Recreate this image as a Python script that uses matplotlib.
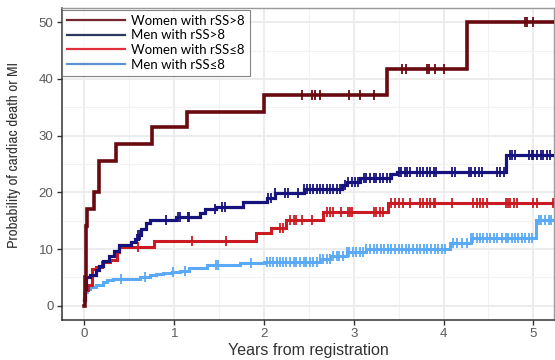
import numpy as np
import matplotlib
matplotlib.use("Agg")
import matplotlib.pyplot as plt
from matplotlib.lines import Line2D
from matplotlib.ticker import MultipleLocator
from matplotlib import font_manager

# Kaplan-Meier style step data (years, cumulative probability %)
women_hi_t = [0, 0.005, 0.015, 0.03, 0.11, 0.16, 0.35, 0.75, 1.14, 2.0, 3.37, 4.26]
women_hi_y = [0, 5.0, 14.0, 17.0, 20.0, 25.6, 28.6, 31.5, 34.2, 37.2, 41.7, 50.0]
women_hi_cens = [2.42, 2.53, 2.57, 2.62, 2.95, 3.07, 3.23, 3.54, 3.58, 3.81, 3.84,
                 3.91, 4.01, 4.91, 4.93, 5.0]

men_hi_t = [0, 0.01, 0.02, 0.06, 0.13, 0.16, 0.21, 0.27, 0.33, 0.38, 0.52, 0.56, 0.6,
            0.63, 0.69, 0.73, 1.02, 1.29, 1.34, 1.47, 1.77, 2.03, 2.12, 2.44, 2.87,
            2.92, 3.07, 3.42, 3.48, 4.70]
men_hi_y = [1.0, 3.0, 5.0, 5.5, 6.3, 7.0, 7.9, 8.7, 9.6, 10.7, 11.2, 11.8, 12.5, 13.6,
            14.6, 15.1, 15.7, 16.4, 17.0, 17.5, 18.3, 19.0, 19.8, 20.6, 21.3, 21.8,
            22.6, 23.2, 23.6, 26.6]
men_hi_cens = [0.58, 0.6, 0.62, 0.91, 1.04, 1.06, 1.15, 1.17, 1.45, 1.53, 1.56, 2.05,
               2.08, 2.12, 2.23, 2.27, 2.38, 2.44, 2.48, 2.51, 2.55, 2.59, 2.62, 2.66,
               2.70, 2.73, 2.77, 2.81, 2.85, 2.90, 2.94, 2.98, 3.01, 3.05, 3.11, 3.14,
               3.18, 3.22, 3.25, 3.29, 3.33, 3.37, 3.40, 3.50, 3.53, 3.57, 3.59, 3.63,
               3.70, 3.74, 3.77, 3.81, 3.85, 3.89, 3.92, 4.09, 4.13, 4.28, 4.31, 4.35,
               4.39, 4.43, 4.59, 4.63, 4.67, 4.74, 4.76, 4.80, 4.95, 4.98, 5.0, 5.04,
               5.08, 5.11, 5.15, 5.19]

women_lo_t = [0, 0.01, 0.04, 0.08, 0.13, 0.19, 0.28, 0.36, 0.39, 0.78, 1.91, 2.08,
              2.24, 2.66, 3.38]
women_lo_y = [1.0, 2.8, 3.6, 6.5, 6.9, 7.8, 8.1, 9.5, 10.3, 11.5, 12.8, 13.8, 15.2,
              16.6, 18.2]
women_lo_cens = [0.02, 0.6, 1.2, 1.58, 2.18, 2.21, 2.29, 2.33, 2.36, 2.42, 2.53, 2.70,
                 2.73, 2.77, 2.86, 2.94, 2.96, 2.98, 3.22, 3.25, 3.29, 3.33, 3.42,
                 3.46, 3.50, 3.55, 3.63, 3.74, 3.77, 3.81, 3.85, 3.89, 3.91, 4.09,
                 4.33, 4.37, 4.41, 4.44, 4.48, 4.69, 4.72, 4.74, 4.78, 4.82, 5.0,
                 5.04, 5.22]

men_lo_t = [0, 0.005, 0.01, 0.06, 0.13, 0.21, 0.25, 0.32, 0.62, 0.73, 0.80, 0.88,
            0.98, 1.06, 1.17, 1.36, 1.73, 2.0, 2.62, 2.74, 2.92, 3.14, 4.07, 4.31, 5.03]
men_lo_y = [1.5, 2.3, 2.9, 3.4, 3.6, 4.2, 4.5, 4.8, 5.1, 5.4, 5.6, 5.8, 6.0, 6.2,
            6.6, 7.2, 7.5, 7.8, 8.3, 8.8, 9.4, 10.0, 11.0, 11.9, 15.2]
men_lo_cens = [0.0, 0.01, 0.02, 0.03, 0.04, 0.41, 0.67, 0.99, 1.12, 1.47, 1.49, 1.86,
               2.03, 2.07, 2.10, 2.14, 2.18, 2.21, 2.25, 2.29, 2.33, 2.36, 2.40, 2.44,
               2.47, 2.51, 2.55, 2.59, 2.62, 2.66, 2.70, 2.73, 2.77, 2.81, 2.84, 2.88,
               2.92, 2.95, 2.99, 3.03, 3.07, 3.1, 3.14, 3.18, 3.22, 3.26, 3.3, 3.34,
               3.38, 3.42, 3.46, 3.5, 3.54, 3.58, 3.62, 3.66, 3.7, 3.74, 3.78, 3.82,
               3.86, 3.9, 3.94, 3.98, 4.02, 4.11, 4.15, 4.20, 4.26, 4.31, 4.33, 4.37,
               4.41, 4.44, 4.48, 4.52, 4.56, 4.59, 4.65, 4.69, 4.72, 4.76, 4.80, 4.83,
               4.87, 4.91, 4.95, 4.98, 5.06, 5.09, 5.13, 5.17, 5.2]

max_follow = 5.3

series = [
    (women_hi_t, women_hi_y, women_hi_cens, "#680A10", 2.6),
    (men_hi_t, men_hi_y, men_hi_cens, "#17137D", 2.3),
    (women_lo_t, women_lo_y, women_lo_cens, "#CC1A22", 2.2),
    (men_lo_t, men_lo_y, men_lo_cens, "#5AAAF7", 2.2),
]

legend_labels = ["Women with rSS>8", "Men with rSS>8", "Women with rSS\u22648", "Men with rSS\u22648"]
legend_colors = ["#74252E", "#2B3962", "#E2303A", "#5B90D2"]

fig = plt.figure(figsize=(5.55, 3.6), dpi=100)
ax = fig.add_axes([62 / 555, 1 - 320 / 360, 492 / 555, 312 / 360])

# draw from last to first so dark curves sit on top like the reference
for t, y, cens, col, lw in series[::-1]:
    tt = np.append(t, max_follow)
    yy = np.append(y, y[-1])
    ax.step(tt, yy, where="post", color=col, linewidth=lw, solid_joinstyle="miter", zorder=3)
    idx = np.searchsorted(t, cens, side="right") - 1
    cy = np.array(y)[idx]
    ax.plot(cens, cy, linestyle="none", marker="|", markersize=7, markeredgewidth=1.3,
            color=col, zorder=3)

ax.set_xlim(-0.25, 5.23)
ax.set_ylim(-2.5, 52.5)
ax.xaxis.set_major_locator(MultipleLocator(1))
ax.xaxis.set_minor_locator(MultipleLocator(0.5))
ax.yaxis.set_major_locator(MultipleLocator(10))
ax.yaxis.set_minor_locator(MultipleLocator(5))
ax.grid(True, which="major", color="#EBEBEB", linewidth=1.3, zorder=0)
ax.grid(True, which="minor", color="#F2F2F2", linewidth=0.8, zorder=0)
ax.set_axisbelow(True)
ax.tick_params(which="minor", length=0)
ax.tick_params(which="major", length=3.6, width=1, color="#333333", pad=2.5,
               labelsize=9.5, labelcolor="#5A5A5A")
for lab in ax.get_xticklabels() + ax.get_yticklabels():
    lab.set_family("Liberation Sans")

for side in ["left", "bottom"]:
    ax.spines[side].set_color("#333333")
    ax.spines[side].set_linewidth(1.1)
for side in ["top", "right"]:
    ax.spines[side].set_color("#9A9A9A")
    ax.spines[side].set_linewidth(1.0)

# narrow face for the y label if one is around
narrow = [f.name for f in font_manager.fontManager.ttflist if "Narrow" in f.name]
ylab_family = [narrow[0], "DejaVu Sans"] if narrow else ["DejaVu Sans"]
ylab_size = 11 if narrow else 10.3
fig.text(14 / 555, 1 - 155 / 360, "Probability of cardiac death or MI", rotation=90,
         ha="center", va="center", fontsize=ylab_size, color="#333333",
         family=ylab_family, stretch="condensed")
fig.text(308 / 555, 1 - 350 / 360, "Years from registration", ha="center", va="center",
         fontsize=11.5, color="#333333", family="Liberation Sans")

handles = [Line2D([0], [0], color=c, linewidth=1.6) for c in legend_colors]
leg = ax.legend(handles, legend_labels, loc="upper left", bbox_to_anchor=(0, 0.995),
                borderaxespad=0, frameon=True, fancybox=False, handlelength=4.4,
                handletextpad=0.45, labelspacing=0.2, borderpad=0.4,
                prop={"family": "Lato", "size": 9.5})
leg.get_frame().set_edgecolor("#666666")
leg.get_frame().set_linewidth(0.8)
leg.set_zorder(5)

fig.savefig("out.png", dpi=100)
